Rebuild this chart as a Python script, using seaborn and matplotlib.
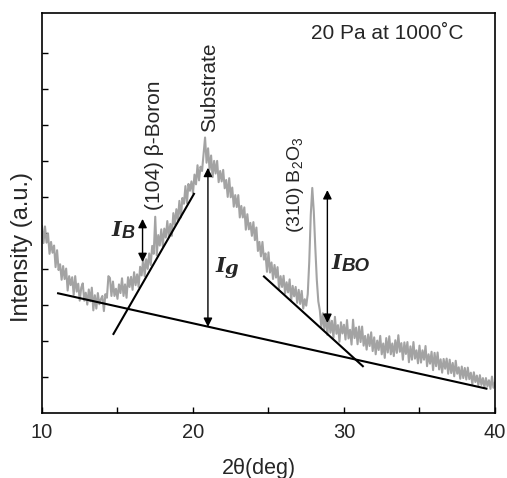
import numpy as np
import matplotlib
matplotlib.use("Agg")
import matplotlib.pyplot as plt
import seaborn as sns

# XRD pattern, 0.1 deg steps from 10 to 40 deg
two_theta = np.linspace(10, 40, 301)
intensity = [
    5.20, 4.72, 5.18, 4.73, 4.98, 4.42, 4.75, 4.45, 4.65, 4.05,
    4.52, 3.97, 4.13, 3.70, 4.08, 3.72, 4.01, 3.40, 3.80, 3.55,
    3.77, 3.28, 3.80, 3.37, 3.59, 3.12, 3.48, 3.60, 3.12, 3.34,
    3.01, 3.43, 3.10, 3.48, 2.85, 3.27, 2.90, 3.33, 3.02, 3.16,
    3.25, 2.83, 3.30, 3.20, 3.80, 3.75, 3.25, 3.65, 3.25, 3.45,
    3.17, 3.57, 3.33, 3.74, 3.25, 3.57, 3.20, 3.77, 3.50, 3.78,
    3.42, 3.91, 3.55, 3.85, 3.50, 4.06, 3.82, 4.28, 3.80, 4.27,
    4.00, 4.43, 4.11, 4.64, 4.42, 5.45, 4.38, 4.94, 4.65, 5.10,
    4.63, 5.12, 4.87, 5.33, 4.89, 5.25, 4.92, 5.55, 5.23, 5.66,
    5.35, 5.89, 5.43, 5.97, 5.81, 6.30, 5.83, 6.36, 6.17, 6.43,
    6.10, 6.62, 6.35, 6.88, 6.46, 6.84, 6.72, 7.20, 7.65, 6.95,
    7.35, 6.75, 7.15, 6.55, 7.00, 6.65, 7.00, 6.41, 6.72, 6.43,
    6.75, 6.24, 6.47, 6.00, 6.52, 5.99, 6.26, 5.73, 6.05, 5.72,
    6.05, 5.43, 5.75, 5.43, 5.71, 5.09, 5.52, 5.10, 5.28, 4.92,
    5.30, 4.80, 5.15, 4.50, 4.75, 4.35, 4.75, 4.26, 4.43, 3.92,
    4.46, 3.90, 4.18, 3.72, 4.11, 3.76, 4.05, 3.45, 3.80, 3.50,
    3.81, 3.32, 3.63, 3.35, 3.71, 3.12, 3.53, 3.24, 3.50, 3.06,
    3.42, 3.03, 3.39, 2.90, 3.16, 2.98, 3.30, 4.20, 5.50, 6.25,
    5.60, 4.60, 3.70, 3.10, 2.85, 2.38, 2.77, 2.33, 2.75, 2.17,
    2.70, 2.23, 2.56, 2.09, 2.67, 2.20, 2.44, 1.98, 2.52, 2.21,
    2.45, 2.04, 2.58, 2.07, 2.31, 1.90, 2.59, 2.08, 2.37, 1.91,
    2.40, 1.97, 2.40, 1.87, 2.14, 1.76, 2.18, 1.86, 2.24, 1.72,
    2.10, 1.63, 2.01, 1.75, 2.14, 1.63, 1.93, 1.53, 2.08, 1.68,
    2.13, 1.63, 1.93, 1.58, 2.02, 1.67, 2.16, 1.70, 1.94, 1.48,
    1.96, 1.64, 1.97, 1.41, 1.85, 1.48, 1.97, 1.51, 1.74, 1.38,
    1.87, 1.40, 1.74, 1.48, 1.86, 1.30, 1.63, 1.37, 1.70, 1.19,
    1.67, 1.30, 1.68, 1.21, 1.49, 1.12, 1.50, 1.23, 1.51, 1.09,
    1.48, 1.11, 1.39, 1.02, 1.45, 1.09, 1.27, 0.95, 1.29, 0.97,
    1.25, 0.93, 1.26, 0.94, 1.12, 0.80, 1.13, 0.86, 1.04, 0.77,
    1.05, 0.78, 0.97, 0.71, 0.97, 0.74, 0.91, 0.67, 1.01, 0.70,
    0.85,
]

# construction lines (x0, x1), (y0, y1)
baseline_x = [11.0, 39.5]
baseline_y = [3.33, 0.67]
boron_tangent_x = [14.7, 20.1]
boron_tangent_y = [2.17, 6.11]
bo_tangent_x = [24.65, 31.3]
bo_tangent_y = [3.81, 1.28]

# double arrows: x, y_top, y_bottom
arrow_IB = (16.66, 5.39, 4.19)
arrow_Ig = (20.99, 6.81, 2.39)
arrow_IBO = (28.9, 6.19, 2.5)

sns.set_style("ticks")
plt.rcParams["font.family"] = ["Liberation Sans", "DejaVu Sans"]
plt.rcParams["mathtext.fontset"] = "custom"
plt.rcParams["mathtext.rm"] = "Liberation Sans"
plt.rcParams["mathtext.it"] = "Liberation Sans:italic"
plt.rcParams["mathtext.bf"] = "Liberation Sans:bold"

fig = plt.figure(figsize=(5.07, 4.78), dpi=100)
ax = fig.add_axes([0.0828, 0.136, 0.8935, 0.837])

sns.lineplot(x=two_theta, y=intensity, ax=ax, color="#a3a3a3", lw=1.5)

for xs, ys in [(baseline_x, baseline_y), (boron_tangent_x, boron_tangent_y),
               (bo_tangent_x, bo_tangent_y)]:
    ax.plot(xs, ys, color="black", lw=1.5, solid_capstyle="butt")

for xa, yt, yb in [arrow_IB, arrow_Ig, arrow_IBO]:
    ax.annotate("", xy=(xa, yt), xytext=(xa, yb),
                arrowprops=dict(arrowstyle="<|-|>", color="black", lw=1.0,
                                mutation_scale=13, shrinkA=0, shrinkB=0))


def intensity_label(x, y, sub, sub_font, sub_size):
    ax.text(x, y, "I", fontsize=15, fontweight="bold", fontstyle="italic",
            family="DejaVu Serif", ha="left", va="baseline")
    ax.annotate(sub, xy=(x, y), xytext=(7, -1.5), textcoords="offset points",
                fontsize=sub_size, fontweight="bold", fontstyle="italic",
                family=sub_font, ha="left", va="baseline")


intensity_label(14.62, 4.92, "B", "Liberation Sans", 13)
intensity_label(21.46, 3.92, "g", "DejaVu Serif", 14)
intensity_label(29.2, 4.0, "BO", "Liberation Sans", 13.5)

ax.text(17.42, 5.64, "(104) \u03b2-Boron", rotation=90, fontsize=15,
        ha="center", va="bottom")
ax.text(21.07, 7.8, "Substrate", rotation=90, fontsize=15,
        ha="center", va="bottom")
ax.text(26.82, 5.0, "(310) B$_2$O$_3$", rotation=90, fontsize=14,
        ha="center", va="bottom")
ax.text(37.9, 10.53, "20 Pa at 1000\u02daC", fontsize=15, ha="right",
        va="center")

ax.set_xlim(10, 40)
ax.set_ylim(0, 11.11)
ax.set_xticks([10, 20, 30, 40])
ax.set_xticks([15, 25, 35], minor=True)
ax.set_yticks(range(1, 11))
ax.set_yticklabels([])
ax.tick_params(axis="both", which="both", direction="in", length=4,
               width=1.0, labelsize=14.5, color="black")
ax.tick_params(axis="x", pad=7)
for s in ax.spines.values():
    s.set_visible(True)
    s.set_linewidth(1.2)
    s.set_color("black")

ax.set_xlabel("2\u03b8(deg)", fontsize=15.5)
ax.set_ylabel("Intensity (a.u.)", fontsize=17)
ax.xaxis.set_label_coords(0.479, -0.112)
ax.yaxis.set_label_coords(-0.02, 0.414)

fig.savefig("out.png", dpi=100)
